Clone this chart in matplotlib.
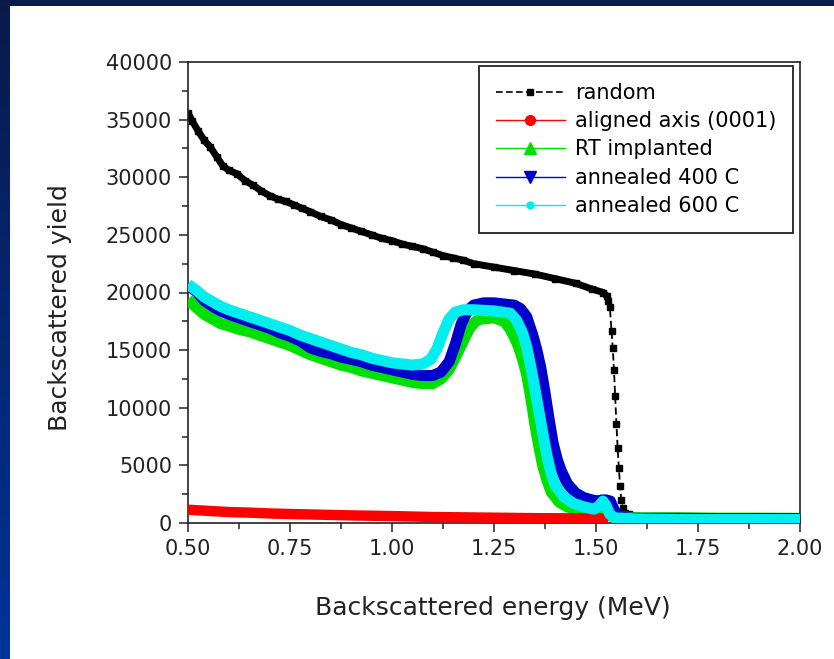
import numpy as np
import matplotlib
matplotlib.use("Agg")
import matplotlib.pyplot as plt
from matplotlib.lines import Line2D
from matplotlib.ticker import MultipleLocator, FormatStrFormatter

plt.rcParams['font.family'] = ['DejaVu Sans']

# ---------------- data ----------------
random_E = [0.500, 0.510, 0.525, 0.540, 0.555, 0.570, 0.585, 0.600, 0.620, 0.640,
            0.660, 0.680, 0.700, 0.720, 0.740, 0.760, 0.780, 0.800, 0.825, 0.850,
            0.875, 0.900, 0.925, 0.950, 0.975, 1.000, 1.025, 1.050, 1.075, 1.100,
            1.125, 1.150, 1.175, 1.200, 1.250, 1.300, 1.350, 1.400, 1.450, 1.490,
            1.518, 1.526, 1.530, 1.534, 1.538, 1.541, 1.544, 1.547, 1.550, 1.553,
            1.556, 1.559, 1.562, 1.565, 1.570, 1.580, 1.600, 1.650, 1.700, 1.800,
            1.900, 2.000]
random_Y = [35600, 34900, 34000, 33200, 32600, 31800, 31000, 30600, 30300, 29700,
            29300, 28800, 28400, 28100, 27900, 27600, 27300, 27000, 26600, 26300,
            25900, 25600, 25300, 25000, 24700, 24500, 24200, 24000, 23800, 23500,
            23200, 23000, 22800, 22500, 22200, 21900, 21600, 21200, 20800, 20300,
            20000, 19700, 19300, 18700, 16700, 15200, 13300, 11000, 8600, 6500,
            4800, 3200, 2000, 1300, 900, 750, 650, 500, 450, 400,
            380, 350]

aligned_E = [0.50, 0.55, 0.60, 0.65, 0.70, 0.75, 0.80, 0.85, 0.90, 0.95, 1.00, 1.05,
             1.10, 1.15, 1.20, 1.25, 1.30, 1.35, 1.40, 1.45, 1.50, 1.53]
aligned_Y = [1150, 1050, 950, 900, 830, 780, 740, 700, 660, 630, 600, 560,
             520, 500, 480, 460, 440, 420, 410, 400, 390, 380]

rt_E = [0.500, 0.520, 0.540, 0.560, 0.580, 0.600, 0.625, 0.650, 0.675, 0.700,
        0.725, 0.750, 0.775, 0.800, 0.825, 0.850, 0.875, 0.900, 0.925, 0.950,
        0.975, 1.000, 1.025, 1.050, 1.075, 1.100, 1.120, 1.140, 1.160, 1.175,
        1.190, 1.205, 1.220, 1.250, 1.275, 1.290, 1.300, 1.310, 1.320, 1.330,
        1.340, 1.350, 1.360, 1.370, 1.380, 1.390, 1.410, 1.430, 1.450, 1.475,
        1.500, 1.550, 1.600, 1.700, 1.800, 1.900, 2.000]
rt_Y = [19400, 18700, 18100, 17700, 17300, 17100, 16800, 16600, 16300, 16000,
        15700, 15400, 15000, 14600, 14300, 14000, 13700, 13500, 13200, 13000,
        12800, 12600, 12400, 12200, 12100, 12100, 12500, 13300, 14700, 15800,
        16900, 17500, 17700, 17800, 17500, 16800, 16100, 15300, 14200, 12900,
        10900, 8600, 6600, 4900, 3700, 2700, 1800, 1400, 1150, 950,
        800, 550, 450, 450, 420, 420, 400]

a400_E = [0.500, 0.520, 0.540, 0.560, 0.580, 0.600, 0.625, 0.650, 0.675, 0.700,
          0.725, 0.750, 0.775, 0.800, 0.825, 0.850, 0.875, 0.900, 0.925, 0.950,
          0.975, 1.000, 1.025, 1.050, 1.075, 1.100, 1.120, 1.140, 1.155, 1.170,
          1.185, 1.200, 1.225, 1.250, 1.275, 1.300, 1.315, 1.330, 1.345, 1.355,
          1.365, 1.375, 1.385, 1.395, 1.405, 1.415, 1.430, 1.450, 1.470, 1.490,
          1.505, 1.515, 1.525, 1.535, 1.545, 1.555, 1.575, 1.600, 1.700, 1.800,
          1.900, 2.000]
a400_Y = [20600, 20100, 19300, 18800, 18400, 18100, 17800, 17500, 17200, 16900,
          16500, 16200, 15800, 15200, 14900, 14700, 14400, 14200, 14000, 13700,
          13500, 13300, 13100, 12900, 12800, 12800, 13100, 14000, 15500, 17300,
          18400, 18900, 19100, 19100, 19000, 18900, 18600, 17900, 16300, 15000,
          13400, 11300, 9000, 6900, 5500, 4500, 3400, 2600, 2200, 2000,
          1900, 2000, 2000, 1900, 1100, 600, 450, 400, 400, 380,
          380, 380]

a600_E = [0.500, 0.520, 0.540, 0.560, 0.580, 0.600, 0.625, 0.650, 0.675, 0.700,
          0.725, 0.750, 0.775, 0.800, 0.825, 0.850, 0.875, 0.900, 0.925, 0.950,
          0.975, 1.000, 1.025, 1.050, 1.075, 1.095, 1.110, 1.125, 1.140, 1.155,
          1.175, 1.200, 1.250, 1.290, 1.305, 1.320, 1.330, 1.340, 1.350, 1.360,
          1.370, 1.380, 1.390, 1.400, 1.420, 1.445, 1.470, 1.495, 1.508, 1.517,
          1.525, 1.533, 1.545, 1.600, 1.700, 1.800, 1.900, 2.000]
a600_Y = [20700, 20200, 19600, 19200, 18800, 18500, 18200, 17900, 17600, 17300,
          17000, 16700, 16300, 16000, 15700, 15400, 15100, 14800, 14600, 14300,
          14100, 13900, 13800, 13700, 13800, 14200, 15100, 16500, 17700, 18300,
          18500, 18500, 18400, 18200, 17600, 16500, 15300, 13600, 11700, 9700,
          7700, 5800, 4300, 3300, 2300, 1700, 1400, 1200, 1500, 1900,
          1500, 800, 450, 350, 300, 300, 300, 300]

series_labels = ["random", "aligned axis (0001)", "RT implanted",
                 "annealed 400 C", "annealed 600 C"]
x_ticks = [0.50, 0.75, 1.00, 1.25, 1.50, 1.75, 2.00]
y_ticks = [0, 5000, 10000, 15000, 20000, 25000, 30000, 35000, 40000]

# ---------------- figure ----------------
W, H = 834, 659
fig = plt.figure(figsize=(W / 100, H / 100), dpi=100, facecolor='white')

# dark blue slide frame: gradient strip on the left, band on top
grad = np.linspace(0, 1, 256).reshape(-1, 1)
top_c = np.array([0x0a, 0x1a, 0x4a]) / 255
bot_c = np.array([0x00, 0x33, 0x99]) / 255
img = top_c[None, None, :] * (1 - grad[:, :, None]) + bot_c[None, None, :] * grad[:, :, None]
lax = fig.add_axes([0, 0, 10 / W, 1])
lax.imshow(img, aspect='auto', extent=[0, 1, 1, 0])
lax.set_axis_off()
tax = fig.add_axes([0, 1 - 6 / H, 1, 6 / H])
tax.set_facecolor('#0b1c4c')
tax.set_xticks([]); tax.set_yticks([])
for s in tax.spines.values():
    s.set_visible(False)

ax = fig.add_axes([188 / W, 1 - 523 / H, (800 - 188) / W, (523 - 62) / H])

rE, rY = np.array(random_E), np.array(random_Y)
dense = rE <= 1.526
ax.plot(rE[dense], rY[dense], color='black', lw=5, solid_capstyle='butt', zorder=2)
ax.plot(rE, rY, color='black', lw=1.3, ls=(0, (4, 2)), marker='s', ms=5, zorder=2)

ax.plot(rt_E, rt_Y, color='#00e000', lw=8, solid_capstyle='butt', zorder=4)
ax.plot(aligned_E, aligned_Y, color='#ff0000', lw=7.5, solid_capstyle='butt', zorder=4.5)
ax.plot(a400_E, a400_Y, color='#0000cc', lw=8, solid_capstyle='butt', zorder=5)
ax.plot(a600_E, a600_Y, color='#00eeee', lw=8, solid_capstyle='butt', zorder=6)

ax.set_xlim(0.5, 2.0)
ax.set_ylim(0, 40000)
ax.xaxis.set_major_locator(MultipleLocator(0.25))
ax.xaxis.set_minor_locator(MultipleLocator(0.125))
ax.yaxis.set_major_locator(MultipleLocator(5000))
ax.yaxis.set_minor_locator(MultipleLocator(2500))
ax.set_xticks(x_ticks)
ax.set_yticks(y_ticks)
ax.xaxis.set_major_formatter(FormatStrFormatter('%.2f'))
ax.yaxis.set_major_formatter(FormatStrFormatter('%d'))
ax.tick_params(which='major', direction='out', length=6.5, width=1.1,
               labelsize=15, pad=5, color='#222222', labelcolor='#222222')
ax.tick_params(which='minor', direction='out', length=4.3, width=1.1, color='#222222')
ax.tick_params(top=False, right=False, which='both')
for s in ax.spines.values():
    s.set_linewidth(1.2)
    s.set_color('#222222')

ax.set_xlabel("Backscattered energy (MeV)", fontsize=18, color='#222222')
ax.set_ylabel("Backscattered yield", fontsize=18, color='#222222')
ax.xaxis.set_label_coords(0.498, -0.158)
ax.yaxis.set_label_coords(-0.19, 0.468)

handles = [
    Line2D([], [], color='black', lw=1.2, ls=(0, (4, 2)), marker='s', ms=5),
    Line2D([], [], color='#ff0000', lw=1.0, marker='o', ms=7),
    Line2D([], [], color='#00e000', lw=1.0, marker='^', ms=9),
    Line2D([], [], color='#0000cc', lw=1.0, marker='v', ms=9),
    Line2D([], [], color='#00eeee', lw=1.0, marker='o', ms=5),
]
leg = ax.legend(handles, series_labels, loc='upper right',
                bbox_to_anchor=(0.989, 0.991), borderaxespad=0,
                fontsize=15, frameon=True, fancybox=False, shadow=False,
                handlelength=3.3, handletextpad=0.5, labelspacing=0.4,
                borderpad=0.8)
leg.get_frame().set_edgecolor('#222222')
leg.get_frame().set_linewidth(1.3)
leg.get_frame().set_alpha(1)
leg.set_zorder(10)

fig.savefig("out.png", dpi=100, facecolor='white')
